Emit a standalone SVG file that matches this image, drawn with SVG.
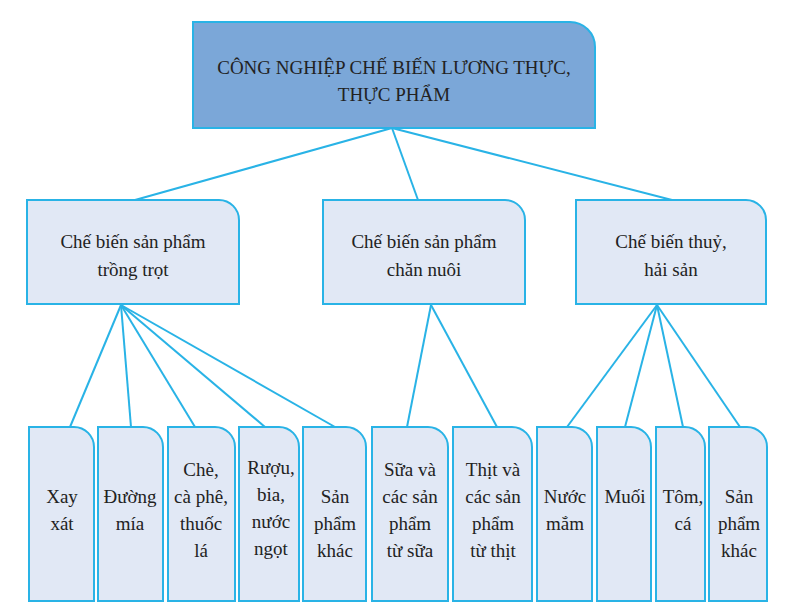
<svg xmlns="http://www.w3.org/2000/svg" width="790" height="610" viewBox="0 0 790 610">
<style>
.b{fill:#e1e8f5;stroke:#29b3e6;stroke-width:2}
.top{fill:#7ba7d8;stroke:#29b3e6;stroke-width:2}
text{font-family:"Liberation Serif","Times New Roman",serif;font-size:19px;fill:#222;text-anchor:middle}
#conn line{stroke:#29b3e6;stroke-width:2}
</style>
<rect width="790" height="610" fill="#fff"/>
<g id="conn">
<line x1="392" y1="128" x2="135" y2="200"/><line x1="392" y1="128" x2="418" y2="200"/><line x1="392" y1="128" x2="672" y2="200"/>
<line x1="121" y1="305" x2="70" y2="427"/><line x1="121" y1="305" x2="131" y2="427"/><line x1="121" y1="305" x2="195" y2="427"/><line x1="121" y1="305" x2="265" y2="427"/><line x1="121" y1="305" x2="335" y2="427"/>
<line x1="431" y1="305" x2="407" y2="427"/><line x1="431" y1="305" x2="497" y2="427"/>
<line x1="657" y1="305" x2="567" y2="427"/><line x1="657" y1="305" x2="625" y2="427"/><line x1="657" y1="305" x2="683" y2="427"/><line x1="657" y1="305" x2="740" y2="427"/>
</g>
<g id="root"><path class="top" d="M193 22H570A25 25 0 0 1 595 47V128H193Z"/><text x="394" y="74">CÔNG NGHIỆP CHẾ BIẾN LƯƠNG THỰC,</text><text x="394" y="101">THỰC PHẨM</text></g>
<g id="trongtrot"><path class="b" d="M27 200H219A20 20 0 0 1 239 220V304H27Z"/><text x="133" y="248">Chế biến sản phẩm</text><text x="133" y="276">trồng trọt</text></g>
<g id="channuoi"><path class="b" d="M323 200H505A20 20 0 0 1 525 220V304H323Z"/><text x="424" y="248">Chế biến sản phẩm</text><text x="424" y="276">chăn nuôi</text></g>
<g id="thuysan"><path class="b" d="M576 200H746A20 20 0 0 1 766 220V304H576Z"/><text x="671" y="248">Chế biến thuỷ,</text><text x="671" y="276">hải sản</text></g>
<g id="xayxat"><path class="b" d="M29 427H74A20 20 0 0 1 94 447V601H29Z"/><text x="62" y="503">Xay</text><text x="62" y="530">xát</text></g>
<g id="duongmia"><path class="b" d="M98 427H143A20 20 0 0 1 163 447V601H98Z"/><text x="130" y="503">Đường</text><text x="130" y="530">mía</text></g>
<g id="che"><path class="b" d="M168 427H215A20 20 0 0 1 235 447V601H168Z"/><text x="201" y="476">Chè,</text><text x="201" y="503">cà phê,</text><text x="201" y="530">thuốc</text><text x="201" y="557">lá</text></g>
<g id="ruou"><path class="b" d="M239 427H279A20 20 0 0 1 299 447V601H239Z"/><text x="271" y="474">Rượu,</text><text x="271" y="501">bia,</text><text x="271" y="528">nước</text><text x="271" y="555">ngọt</text></g>
<g id="khac1"><path class="b" d="M303 427H346A20 20 0 0 1 366 447V601H303Z"/><text x="335" y="503">Sản</text><text x="335" y="530">phẩm</text><text x="335" y="557">khác</text></g>
<g id="sua"><path class="b" d="M372 427H428A20 20 0 0 1 448 447V601H372Z"/><text x="410" y="476">Sữa và</text><text x="410" y="503">các sản</text><text x="410" y="530">phẩm</text><text x="410" y="557">từ sữa</text></g>
<g id="thit"><path class="b" d="M453 427H512A20 20 0 0 1 532 447V601H453Z"/><text x="493" y="476">Thịt và</text><text x="493" y="503">các sản</text><text x="493" y="530">phẩm</text><text x="493" y="557">từ thịt</text></g>
<g id="nuocmam"><path class="b" d="M537 427H572A20 20 0 0 1 592 447V601H537Z"/><text x="565" y="503">Nước</text><text x="565" y="530">mắm</text></g>
<g id="muoi"><path class="b" d="M597 427H631A20 20 0 0 1 651 447V601H597Z"/><text x="625" y="503">Muối</text></g>
<g id="tomca"><path class="b" d="M656 427H685A20 20 0 0 1 705 447V601H656Z"/><text x="683" y="503">Tôm,</text><text x="683" y="530">cá</text></g>
<g id="khac2"><path class="b" d="M709 427H747A20 20 0 0 1 767 447V601H709Z"/><text x="739" y="503">Sản</text><text x="739" y="530">phẩm</text><text x="739" y="557">khác</text></g>
</svg>
